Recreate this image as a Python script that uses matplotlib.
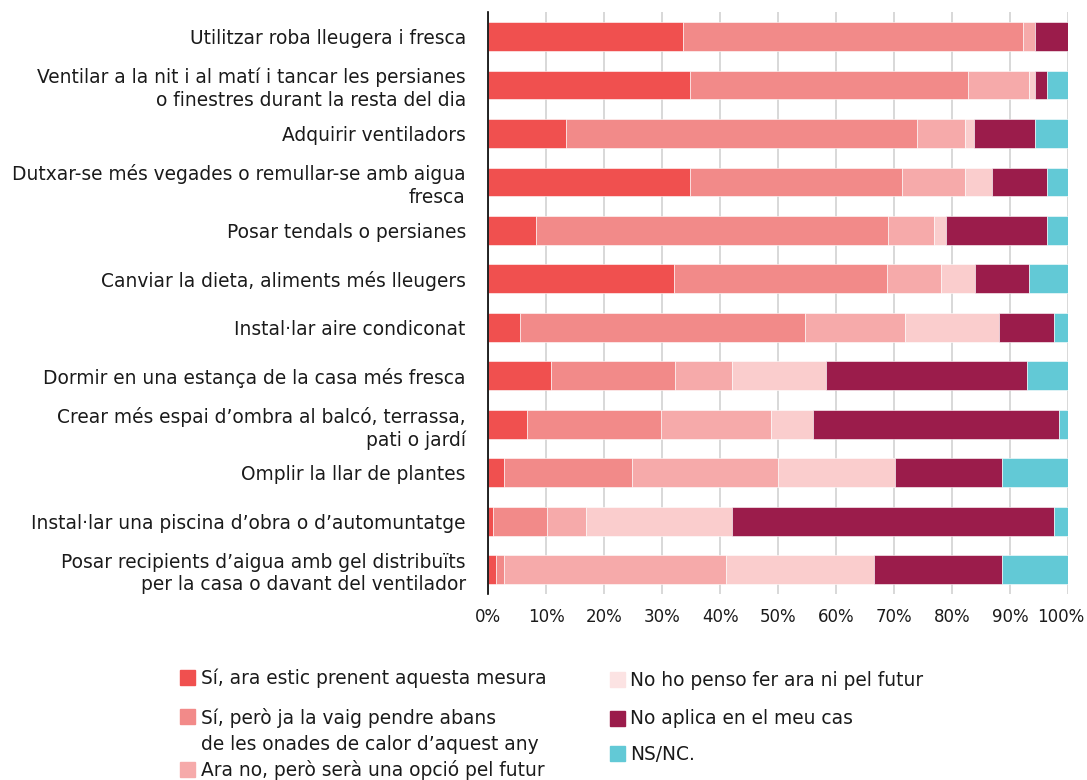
"""Mesures contra la calor."""

import matplotlib.pyplot as plt
import matplotlib.transforms as mtransforms
from matplotlib.patches import Rectangle
import numpy as np

# %% Data

measures = [
    'Utilitzar roba lleugera i fresca',
    'Ventilar a la nit i al matí i tancar les persianes\no finestres durant la resta del dia',
    'Adquirir ventiladors',
    'Dutxar-se més vegades o remullar-se amb aigua\nfresca',
    'Posar tendals o persianes',
    'Canviar la dieta, aliments més lleugers',
    'Instal·lar aire condiconat',
    'Dormir en una estança de la casa més fresca',
    'Crear més espai d’ombra al balcó, terrassa,\npati o jardí',
    'Omplir la llar de plantes',
    'Instal·lar una piscina d’obra o d’automuntatge',
    'Posar recipients d’aigua amb gel distribuïts\nper la casa o davant del ventilador',
]

answers = [
    'Sí, ara estic prenent aquesta mesura',
    'Sí, però ja la vaig pendre abans\nde les onades de calor d’aquest any',
    'Ara no, però serà una opció pel futur',
    'No ho penso fer ara ni pel futur',
    'No aplica en el meu cas',
    'NS/NC.',
]

# one list per answer, same order as measures (%)
si_ara = [33.6, 34.9, 13.4, 34.9, 8.2, 32.1, 5.5, 10.8, 6.7, 2.7, 0.8, 1.3]
si_abans = [58.7, 47.8, 60.5, 36.5, 60.7, 36.7, 49.1, 21.5, 23.1, 22.1, 9.3, 1.4]
futur = [2.0, 10.6, 8.3, 10.8, 7.9, 9.3, 17.3, 9.7, 18.9, 25.2, 6.7, 38.4]
mai = [0.0, 1.0, 1.6, 4.7, 2.1, 5.9, 16.2, 16.3, 7.4, 20.2, 25.3, 25.4]
no_aplica = [5.7, 2.1, 10.5, 9.5, 17.5, 9.3, 9.5, 34.6, 42.3, 18.4, 55.5, 22.1]
nsnc = [0.0, 3.6, 5.7, 3.6, 3.6, 6.7, 2.4, 7.1, 1.6, 11.4, 2.4, 11.4]

colors = ['#f0504f', '#f28a89', '#f6aaaa', '#facdcd', '#9b1c4b', '#62c9d6']
legend_colors = ['#f0504f', '#f28a89', '#f6aaaa', '#fce3e3', '#9b1c4b', '#62c9d6']

series = [si_ara, si_abans, futur, mai, no_aplica, nsnc]

# %% Plot

plt.rcParams['font.family'] = ['DejaVu Sans']
text_color = '#1a1a1a'

fig = plt.figure(figsize=(10.87, 7.8), dpi=100)
ax = fig.add_axes([0.449, 0.2385, 0.5336, 0.746])

y = np.arange(len(measures))
left = np.zeros(len(measures))
for values, color in zip(series, colors):
    ax.barh(y, values, left=left, height=0.59, color=color,
            edgecolor='white', linewidth=0.4, zorder=2)
    left += np.array(values)

# Axes, ticks and grid
ax.set_xlim(0, 100)
ax.set_ylim(len(measures) - 0.5, -0.5)
ax.set_xticks(np.arange(0, 101, 10))
ax.set_xticklabels([f'{v}%' for v in range(0, 101, 10)])
ax.set_yticks(y)
ax.set_yticklabels(measures, linespacing=1.25)
ax.tick_params(axis='both', which='both', length=0, colors=text_color)
ax.tick_params(axis='x', labelsize=12, pad=10)
ax.tick_params(axis='y', labelsize=13.4, pad=16)
ax.xaxis.grid(True, color='#d6d6d6', linewidth=1.3, zorder=0)
ax.set_axisbelow(True)

# Nudge the last tick label inside the figure
last = ax.get_xticklabels()[-1]
last.set_transform(last.get_transform() +
                   mtransforms.ScaledTranslation(-7 / 100, 0, fig.dpi_scale_trans))

for side in ['top', 'right', 'bottom']:
    ax.spines[side].set_visible(False)
ax.spines['left'].set_color('black')
ax.spines['left'].set_linewidth(1.2)
ax.spines['left'].set_zorder(3)

# Legend, drawn by hand in two columns
W, H = 1087, 780
legend_pos = [
    (180, 677.5, 201, 678),
    (180, 716.5, 201, 731),
    (180, 769.5, 201, 770),
    (610, 679.5, 630, 680),
    (610, 718.0, 630, 718),
    (610, 753.5, 630, 754),
]
for (sx, sy, tx, ty), label, color in zip(legend_pos, answers, legend_colors):
    fig.add_artist(Rectangle(((sx) / W, 1 - (sy + 7.5) / H), 15 / W, 15 / H,
                             transform=fig.transFigure, color=color))
    fig.text(tx / W, 1 - ty / H, label, fontsize=13.4, color=text_color,
             va='center', ha='left', linespacing=1.5)

plt.savefig('out.png', dpi=100)
